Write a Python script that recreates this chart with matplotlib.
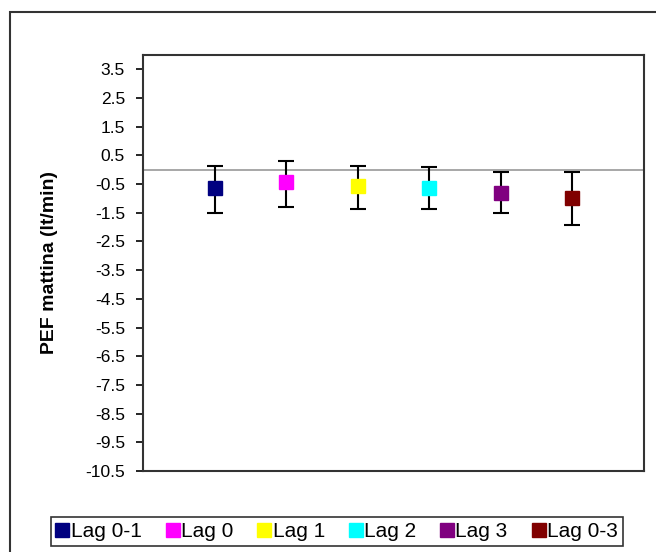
import numpy as np
import matplotlib
matplotlib.use("Agg")
import matplotlib.pyplot as plt
from matplotlib.lines import Line2D
from matplotlib.patches import Rectangle

plt.rcParams['font.family'] = ['Liberation Sans', 'DejaVu Sans']
plt.rcParams['axes.unicode_minus'] = False

# estimates per lag with confidence limits
lags = ['Lag 0-1', 'Lag 0', 'Lag 1', 'Lag 2', 'Lag 3', 'Lag 0-3']
stima = [-0.64, -0.43, -0.57, -0.64, -0.80, -1.00]
ic_inf = [-1.50, -1.29, -1.37, -1.37, -1.50, -1.94]
ic_sup = [0.14, 0.29, 0.14, 0.08, -0.07, -0.07]
colori = ['#000080', '#FF00FF', '#FFFF00', '#00FFFF', '#800080', '#800000']
yticks = np.arange(-10.5, 4.0, 1.0)

W, H = 656, 552
fig = plt.figure(figsize=(W / 100, H / 100), dpi=100)

# outer chart frame
fig.patches.append(Rectangle((10 / W, -0.05), 1.1, (H - 12) / H + 0.05,
                             transform=fig.transFigure, fill=False,
                             edgecolor='#333333', lw=1.5, clip_on=False))

ax = fig.add_axes([143 / W, (H - 471) / H, 501 / W, 416 / H])
ax.set_xlim(0, len(lags) + 1)
ax.set_ylim(-10.5, 4.0)
ax.axhline(0, color='#A0A0A0', lw=1.3, zorder=1)

x = np.arange(1, len(lags) + 1)
s = np.array(stima)
err = [s - np.array(ic_inf), np.array(ic_sup) - s]
ax.errorbar(x, s, yerr=err, fmt='none', ecolor='black', elinewidth=1.5,
            capsize=6, capthick=1.5, zorder=2)
for xi, yi, c in zip(x, s, colori):
    ax.plot(xi, yi, marker='s', ms=10, color=c, mec=c, ls='none', zorder=3)

ax.set_yticks(yticks)
ax.set_yticklabels(['%.1f' % v for v in yticks])
ax.set_xticks([])
ax.tick_params(axis='y', direction='out', length=5, width=1.2, labelsize=12.5, pad=8)
for sp in ax.spines.values():
    sp.set_color('#333333')
    sp.set_linewidth(1.5)

ax.set_ylabel('PEF mattina (lt/min)', fontsize=14, fontweight='bold')
ax.yaxis.set_label_coords((58 - 143) / 501, 0.5)

handles = [Line2D([], [], marker='s', ms=10, color=c, ls='none') for c in colori]
leg = fig.legend(handles, lags, loc='center',
                 bbox_to_anchor=(51 / W, 1 - 549 / H, 572 / W, 35 / H), mode='expand',
                 ncol=6, fontsize=15, frameon=True, fancybox=False,
                 handlelength=0.6, handletextpad=0.1, columnspacing=0.5,
                 borderpad=0.25, borderaxespad=0)
leg.get_frame().set_edgecolor('black')
leg.get_frame().set_linewidth(1.2)

fig.savefig('out.png', dpi=100)
